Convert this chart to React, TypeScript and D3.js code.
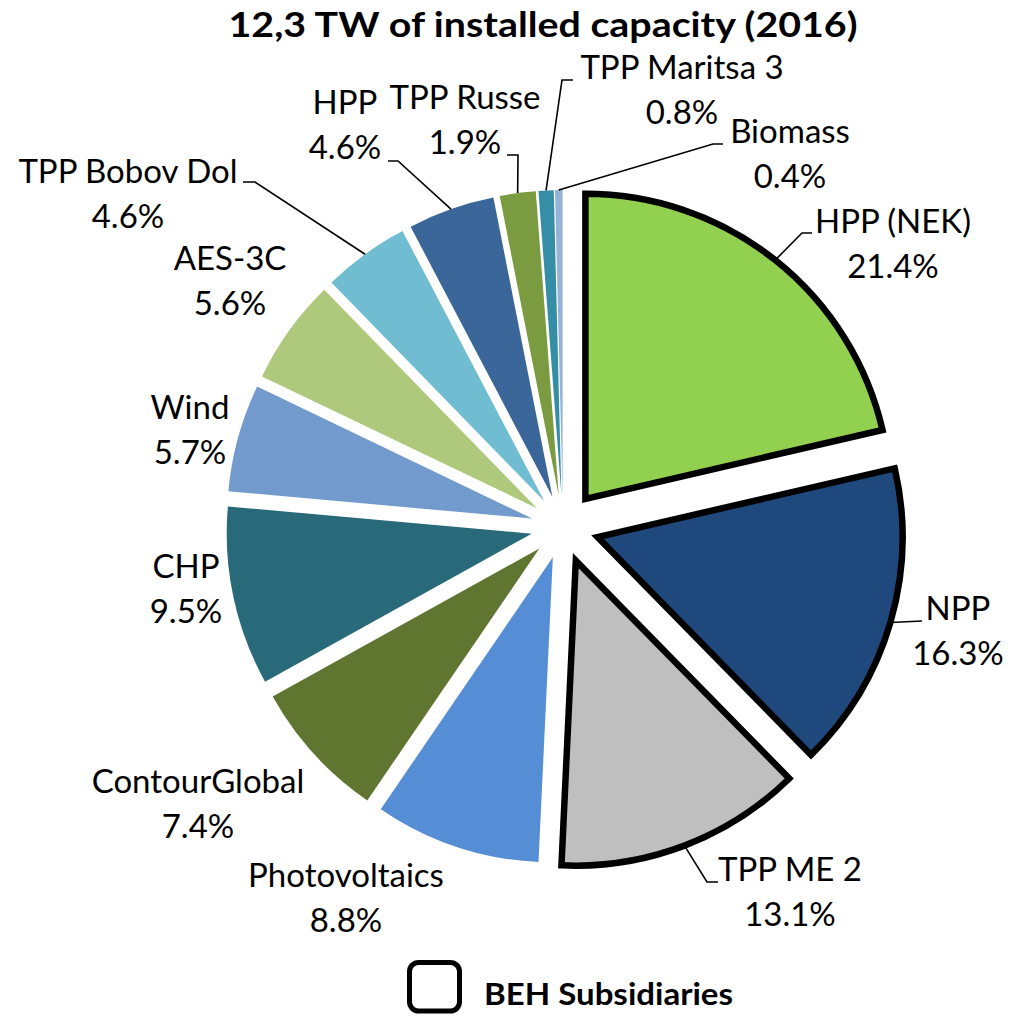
import React from "react";
import * as d3 from "d3";

// ---- data ----
const categories = [
  "HPP (NEK)", "NPP", "TPP ME 2", "Photovoltaics", "ContourGlobal", "CHP",
  "Wind", "AES-3C", "TPP Bobov Dol", "HPP", "TPP Russe", "TPP Maritsa 3", "Biomass",
];
const shares = [21.4, 16.3, 13.1, 8.8, 7.4, 9.5, 5.7, 5.6, 4.6, 4.6, 1.9, 0.8, 0.4];
const behSubsidiary = [true, true, true, false, false, false, false, false, false, false, false, false, false];
const sliceColors = [
  "#92D050", "#1F497D", "#BFBFBF", "#558ED5", "#607530", "#28697A",
  "#729ACD", "#AEC97C", "#70BCD0", "#3B6699", "#7A9B3F", "#368EA6", "#95B3D7",
];
const titleText = "12,3 TW of installed capacity (2016)";
const legendText = "BEH Subsidiaries";

// ---- layout ----
const W = 1010;
const H = 1016;
const CX = 563;
const CY = 527;
const R = 305;
const EXPLODE_BASE = 32;
const EXPLODE_BEH = 36;
const FONT = "Lato, 'Open Sans', sans-serif";
const LABEL_SIZE = 33;
const LINE_GAP = 45;

// label centre x, first-line baseline y, leader elbow points (or null)
type LabelLayout = { x: number; y: number; leader: [number, number][] | null };
const labelLayout: LabelLayout[] = [
  { x: 893, y: 233, leader: [[802, 233], [812, 233]] },
  { x: 958, y: 620, leader: [[922, 621]] },
  { x: 790, y: 881, leader: [[707, 882], [718, 882]] },
  { x: 346, y: 887, leader: null },
  { x: 198, y: 793, leader: null },
  { x: 186, y: 578, leader: null },
  { x: 190, y: 419, leader: null },
  { x: 230, y: 270, leader: null },
  { x: 128, y: 183, leader: [[255, 182], [243, 182]] },
  { x: 345, y: 114, leader: [[398, 161], [388, 161]] },
  { x: 465, y: 109, leader: [[518, 155], [507, 155]] },
  { x: 682, y: 79, leader: [[562, 80], [573, 80]] },
  { x: 790, y: 143, leader: [[713, 144], [723, 144]] },
];

export default function App() {
  const pie = d3
    .pie<number>()
    .sort(null)
    .value((d) => d)
    .startAngle(0)
    .endAngle(2 * Math.PI);
  const arcs = pie(shares);
  const arcGen = d3.arc<d3.PieArcDatum<number>>().innerRadius(0).outerRadius(R);

  const slices = arcs.map((a, i) => {
    const mid = (a.startAngle + a.endAngle) / 2;
    const dist = behSubsidiary[i] ? EXPLODE_BEH : EXPLODE_BASE;
    const dx = dist * Math.sin(mid);
    const dy = -dist * Math.cos(mid);
    const edge: [number, number] = [
      CX + (dist + R) * Math.sin(mid),
      CY - (dist + R) * Math.cos(mid),
    ];
    return { a, i, dx, dy, edge };
  });

  const line = d3.line();

  return (
    <svg
      width={W}
      height={H}
      viewBox={`0 0 ${W} ${H}`}
      style={{ position: "absolute", left: 0, top: 0, background: "#fff" }}
    >
      <rect x={0} y={0} width={W} height={H} fill="#fff" />
      <text
        x={543}
        y={37}
        textAnchor="middle"
        fontFamily={FONT}
        fontWeight={700}
        fontSize={34}
        textLength={629}
        lengthAdjust="spacingAndGlyphs"
        fill="#000"
      >
        {titleText}
      </text>

      <g>
        {slices
          .filter((s) => !behSubsidiary[s.i])
          .map((s) => (
            <path
              key={categories[s.i]}
              d={arcGen(s.a) || ""}
              transform={`translate(${CX + s.dx},${CY + s.dy})`}
              fill={sliceColors[s.i]}
            />
          ))}
        {slices
          .filter((s) => behSubsidiary[s.i])
          .map((s) => (
            <path
              key={categories[s.i]}
              d={arcGen(s.a) || ""}
              transform={`translate(${CX + s.dx},${CY + s.dy})`}
              fill={sliceColors[s.i]}
              stroke="#000"
              strokeWidth={6.5}
              strokeLinejoin="miter"
              strokeMiterlimit={10}
            />
          ))}
      </g>

      <g>
        {slices.map((s) => {
          const lay = labelLayout[s.i];
          if (!lay.leader) return null;
          const pts: [number, number][] = [s.edge, ...lay.leader];
          return (
            <path
              key={"l" + s.i}
              d={line(pts) || ""}
              fill="none"
              stroke="#000"
              strokeWidth={1.6}
            />
          );
        })}
      </g>

      <g fontFamily={FONT} fontSize={LABEL_SIZE} fill="#000" textAnchor="middle">
        {slices.map((s) => {
          const lay = labelLayout[s.i];
          return (
            <text key={"t" + s.i} x={lay.x} y={lay.y}>
              <tspan x={lay.x}>{categories[s.i]}</tspan>
              <tspan x={lay.x} y={lay.y + LINE_GAP}>
                {shares[s.i].toFixed(1) + "%"}
              </tspan>
            </text>
          );
        })}
      </g>

      <g>
        <rect
          x={409.5}
          y={962.5}
          width={50}
          height={48.5}
          rx={9}
          fill="#fff"
          stroke="#000"
          strokeWidth={5}
        />
        <text
          x={484}
          y={1005}
          fontFamily={FONT}
          fontWeight={700}
          fontSize={31}
          textLength={249}
          lengthAdjust="spacingAndGlyphs"
          fill="#000"
        >
          {legendText}
        </text>
      </g>
    </svg>
  );
}
